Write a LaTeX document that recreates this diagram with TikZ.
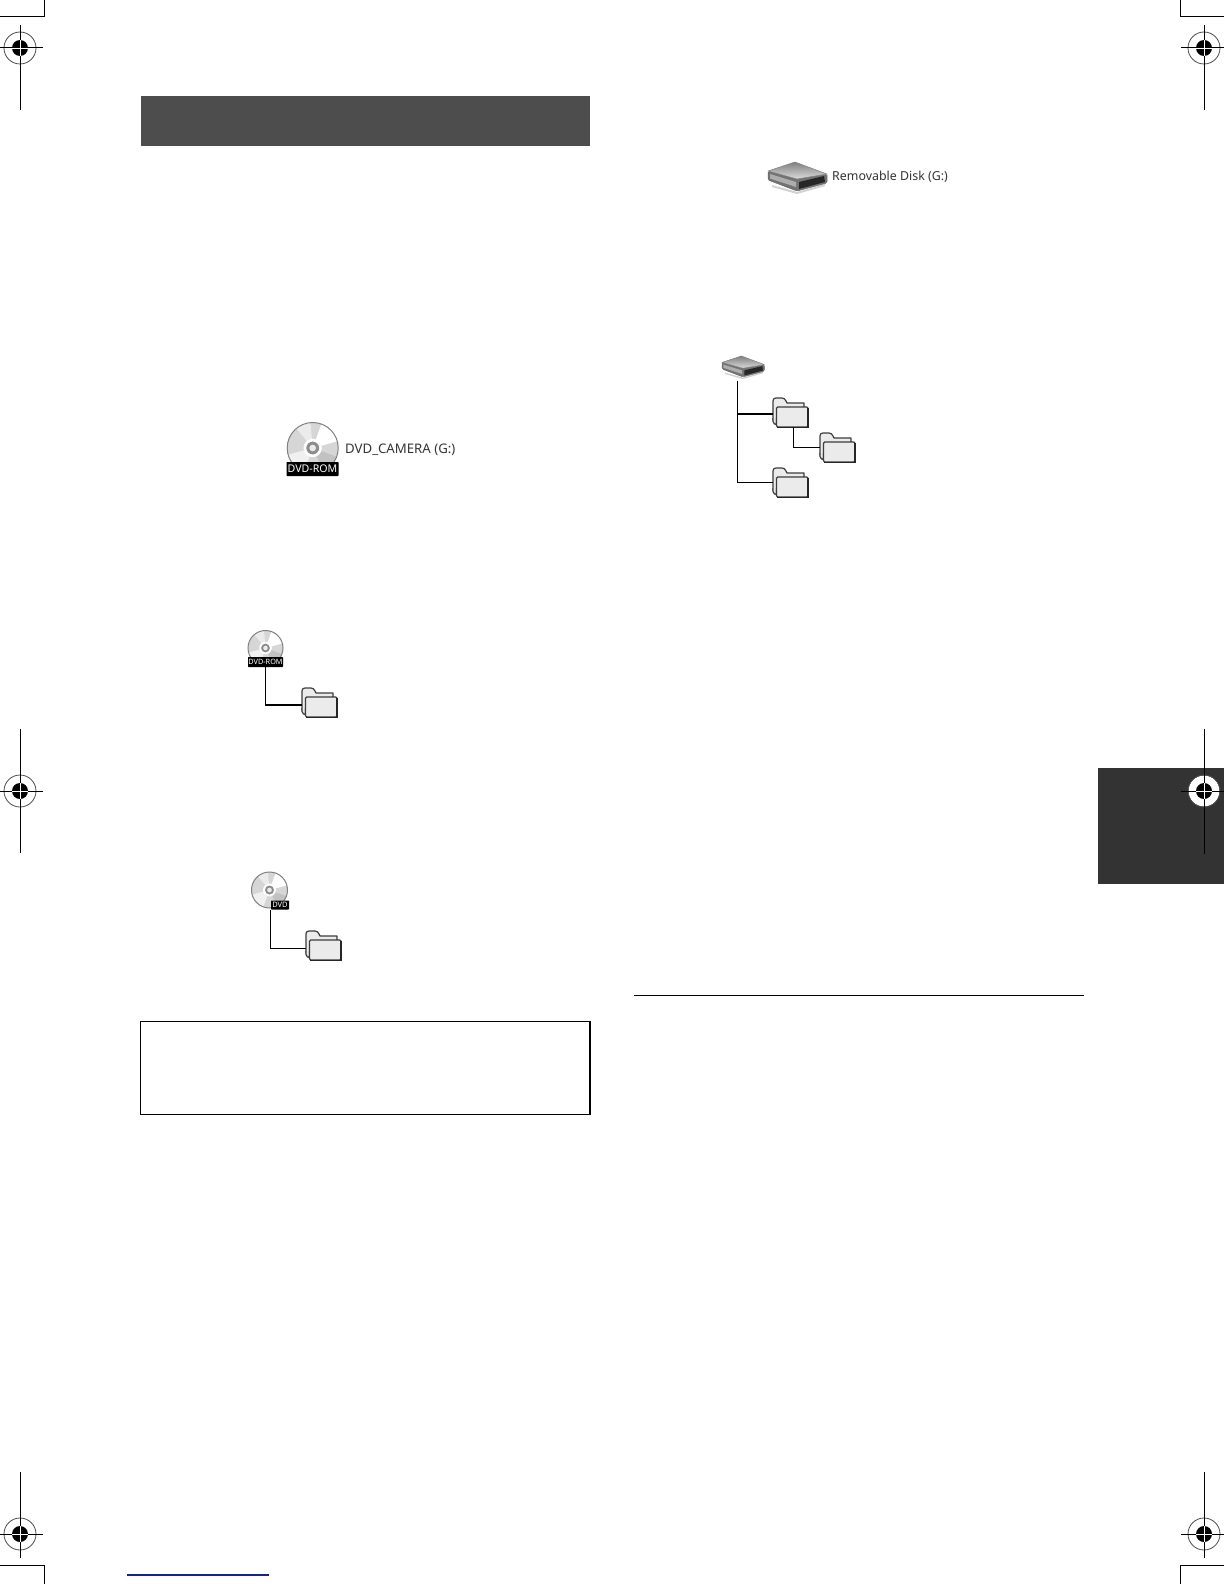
\documentclass[tikz,border=0pt]{standalone}
\usepackage{fontspec}
\setmainfont{Noto Sans}
\usetikzlibrary{calc}
\definecolor{headbar}{HTML}{4D4D4D}
\definecolor{tabbar}{HTML}{333333}
\definecolor{folderfill}{HTML}{EBEBEB}
\definecolor{folderedge}{HTML}{3C3C3C}
\definecolor{footblue}{HTML}{14248F}
\tikzset{
  mark line/.style={line width=1pt,black},
  link/.style={line width=1pt,black},
  thicklink/.style={line width=1.8pt,black},
  folder shape/.style={fill=folderfill,draw=folderedge,line width=1.2pt,line join=round},
  icon text/.style={inner sep=0pt,anchor=west,text=black!80},
  disc label/.style={fill=black,text=white,inner sep=0pt,rounded corners=0.6pt},
  anchor box/.style={inner sep=0pt,outer sep=0pt},
}
% registration mark: name, x, y, vertical top, vertical bottom, horizontal left, horizontal right
\newcommand{\regmark}[7]{%
  \node[anchor box,circle,minimum size=32pt,draw=black!70,line width=0.8pt] (#1) at (#2,#3) {};
  \fill[black] (#2,#3) circle[radius=8pt];
  \draw[mark line] (#2,#4) -- (#2,#5);
  \draw[mark line] (#6,#3) -- (#7,#3);
  \draw[white,line width=0.9pt] (#2,#3-8) -- (#2,#3+8) (#2-8,#3) -- (#2+8,#3);
}
% folder: name, left of back sheet, top of tab
\newcommand{\foldericon}[3]{%
  \node[anchor box,minimum width=35pt,minimum height=29pt] (#1) at (#2+17.5,#3+14.5) {};
  \begin{scope}[shift={(#2,#3)}]
    \path[folder shape] (0,22) -- (0,3) .. controls (0,1) and (1,0) .. (3,0) -- (9,0)
       .. controls (11,0) and (12,1) .. (13,3) -- (14,5) -- (31,5) -- (31,9) -- (3,22) -- cycle;
    \path[fill=folderfill,draw=folderedge,line width=1.2pt,rounded corners=1.5pt] (0,20) -- (0,25) -- (3.5,27) -- (3.5,20);
    \path[folder shape,rounded corners=1.2pt] (3.5,9) -- (35,9) -- (35,29) -- (3.5,29) -- cycle;
    \draw[black!85,line width=1.4pt] (4,29.2) -- (34.8,29.2) -- (34.8,10);
  \end{scope}
}
% disc: name, x, y, radius
\newcommand{\discicon}[4]{%
  \node[anchor box,circle,minimum size=2*#4 pt] (#1) at (#2,#3) {};
  \begin{scope}[shift={(#2,#3)},x=#4pt,y=#4pt]
    \fill[black!16] (0,0) circle[radius=1];
    \fill[white] (0,0) -- (70:1) arc[start angle=70,end angle=15,radius=1] -- cycle;
    \fill[black!6] (0,0) -- (250:1) arc[start angle=250,end angle=195,radius=1] -- cycle;
    \fill[black!8] (0,0) -- (130:1) arc[start angle=130,end angle=95,radius=1] -- cycle;
    \fill[black!24] (0,0) -- (340:1) arc[start angle=340,end angle=295,radius=1] -- cycle;
    \draw[black!50,line width=1pt] (0,0) circle[radius=1];
    \fill[white] (0,0) circle[radius=.36];
    \fill[black!45] (0,0) circle[radius=.25];
    \fill[black!8] (0,0) circle[radius=.13];
  \end{scope}
}
% removable drive: name, left, top, scale factor
\newcommand{\driveicon}[4]{%
  \node[anchor box,minimum width=58*#4 pt,minimum height=30*#4 pt] (#1) at (#2+29*#4,#3+15*#4) {};
  \begin{scope}[shift={(#2,#3)},x=#4pt,y=-#4pt]
    \fill[black!18] (4,23) -- (29,30) -- (57,22) -- (57,24) -- (29,32) -- (4,25) -- cycle;
    \path[fill=black!55,draw=black!60,line width=.5pt,rounded corners=1.5pt] (0,9) -- (0,18) -- (29,29) -- (59,21) -- (59,12) -- (29,17) -- cycle;
    \path[top color=black!50,bottom color=black!14,draw=black!50,line width=.5pt,line join=round] (0,9) -- (27,0) -- (59,12) -- (29,17) -- cycle;
    \path[fill=black!85] (31,20) -- (56,14) -- (57,20) -- (31,27) -- cycle;
    \path[fill=black!32] (2,12) -- (28,20) -- (28,25) -- (2,16.5) -- cycle;
  \end{scope}
}
\begin{document}
\begin{tikzpicture}[x=1pt,y=-1pt]
\useasboundingbox (0,0) rectangle (1224,1584);
% tab and bars
\node[anchor box,fill=tabbar,minimum width=126pt,minimum height=116pt] (tab) at (1161,826) {};
\node[anchor box,circle,fill=white,minimum size=31pt] (tabhole) at (1204,791) {};
\node[anchor box,fill=headbar,minimum width=449pt,minimum height=50pt] (head) at (365.5,121) {};
\node[anchor box,draw=black,line width=1.1pt,minimum width=449.5pt,minimum height=92.5pt] (notebox) at (365.2,1067.8) {};
\draw[line width=1.8pt] (notebox.north east) -- (notebox.south east);
% registration marks
\regmark{ra}{20}{48}{25}{110}{0}{43}
\regmark{rb}{1204}{48}{25}{110}{1181}{1224}
\regmark{rc}{20}{791}{729}{853}{0}{43}
\regmark{rd}{1204}{791}{729}{854}{1181}{1224}
\regmark{re}{20}{1534}{1472}{1558}{0}{43}
\regmark{rf}{1204}{1534}{1472}{1558}{1181}{1224}
% crop corners
\draw[mark line] (0,17) -- (44,17) -- (44,0);
\draw[mark line] (1224,17) -- (1180,17) -- (1180,0);
\draw[mark line] (0,1565) -- (44,1565) -- (44,1584);
\draw[mark line] (1224,1565) -- (1180,1565) -- (1180,1584);
% rules
\coordinate (rulel) at (634,995);
\coordinate (ruler) at (1084,995);
\draw[line width=1pt] (rulel) -- (ruler);
\coordinate (footl) at (127,1575);
\coordinate (footr) at (269,1575);
\draw[footblue,line width=1.2pt] (footl) -- (footr);
% big DVD-ROM
\discicon{bigdisc}{312.7}{448}{25.5}
\node[disc label,minimum width=52pt,minimum height=14pt,font=\fontsize{10.6pt}{11pt}\selectfont] (biglabel) at (312.5,469) {DVD-ROM};
\node[icon text,font=\fontsize{13.2pt}{15pt}\selectfont] (bigtext) at (345,449.5) {DVD\_CAMERA (G:)};
% small DVD-ROM tree
\discicon{romdisc}{265.5}{648}{17.5}
\node[disc label,minimum width=35pt,minimum height=10pt,font=\fontsize{7.3pt}{8pt}\selectfont] (romlabel) at (265.5,662) {DVD-ROM};
\foldericon{romfolder}{302}{688}
\draw[link,line width=1.5pt] (romlabel.south) |- ([yshift=-2.5pt]romfolder.west);
% DVD tree
\discicon{dvddisc}{269.5}{890}{18}
\node[disc label,minimum width=18pt,minimum height=9pt,font=\fontsize{7.5pt}{8pt}\selectfont\bfseries] (dvdlabel) at (280,905) {DVD};
\foldericon{dvdfolder}{306}{931}
\draw[link] ($(dvddisc.south)+(0.5,2)$) |- ([yshift=-2.5pt]dvdfolder.west);
% removable disk
\driveicon{bigdrive}{768}{162}{1}
\node[icon text,font=\fontsize{12.4pt}{14pt}\selectfont] (drivetext) at (832,177) {Removable Disk (G:)};
% drive tree
\driveicon{smalldrive}{722}{356}{.72}
\foldericon{fa}{773}{398}
\foldericon{fb}{820}{433}
\foldericon{fc}{773}{468}
\coordinate (trunk) at ($(smalldrive.south)+(-5,3)$);
\draw[link] (trunk) |- (fc.west);
\draw[thicklink] ([yshift=-1.5pt]trunk |- fa.west) -- ([yshift=-1.5pt]fa.west);
\draw[link] ($(fa.south)+(3,0)$) |- (fb.west);
\end{tikzpicture}
\end{document}
